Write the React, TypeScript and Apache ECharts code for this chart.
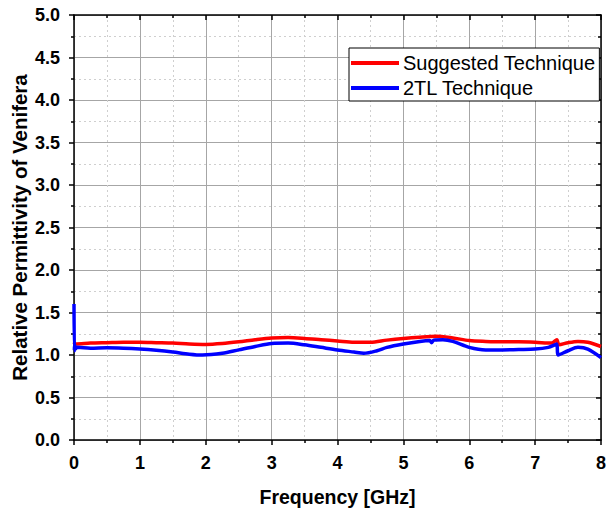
import React, { useEffect, useRef } from "react";
import * as echarts from "echarts";

const redX = [0, 0.02, 0.25, 0.5, 0.75, 1.0, 1.25, 1.5, 1.75, 2.0, 2.25, 2.5, 2.75, 3.0, 3.25, 3.5, 3.75, 4.0, 4.25, 4.5, 4.75, 5.0, 5.25, 5.5, 5.75, 6.0, 6.25, 6.5, 6.75, 7.0, 7.25, 7.33, 7.36, 7.5, 7.65, 7.8, 8.0];
const redY = [1.15, 1.13, 1.14, 1.145, 1.15, 1.15, 1.145, 1.14, 1.13, 1.125, 1.135, 1.155, 1.18, 1.2, 1.205, 1.195, 1.18, 1.165, 1.15, 1.15, 1.175, 1.195, 1.21, 1.22, 1.2, 1.17, 1.16, 1.155, 1.155, 1.15, 1.14, 1.18, 1.12, 1.145, 1.16, 1.15, 1.1];

const blueX = [0, 0.005, 0.01, 0.02, 0.05, 0.25, 0.5, 0.75, 1.0, 1.25, 1.5, 1.75, 1.95, 2.25, 2.5, 2.75, 3.0, 3.25, 3.5, 3.75, 4.0, 4.25, 4.4, 4.6, 4.75, 5.0, 5.25, 5.4, 5.43, 5.46, 5.6, 5.75, 6.0, 6.25, 6.5, 6.75, 7.0, 7.2, 7.3, 7.33, 7.35, 7.5, 7.65, 7.8, 8.0];
const blueY = [1.6, 1.05, 1.12, 1.07, 1.09, 1.08, 1.085, 1.08, 1.07, 1.055, 1.035, 1.01, 1.0, 1.02, 1.06, 1.1, 1.135, 1.14, 1.12, 1.09, 1.06, 1.035, 1.02, 1.05, 1.09, 1.13, 1.16, 1.17, 1.145, 1.175, 1.18, 1.16, 1.09, 1.06, 1.06, 1.065, 1.07, 1.09, 1.12, 1.13, 1.0, 1.05, 1.09, 1.07, 0.97];

const seriesNames = ["Suggested Technique", "2TL Technique"];
const xTitle = "Frequency [GHz]";
const yTitle = "Relative Permittivity of Venifera";

const FONT = "Liberation Sans, Arial, sans-serif";

export default function App() {
  const ref = useRef<HTMLDivElement>(null);
  useEffect(() => {
    const chart = echarts.init(ref.current!, null, { renderer: "svg" });
    const major = { show: true, lineStyle: { color: "#a6a6a6", width: 1 } };
    const minor = { show: true, lineStyle: { color: "#cfcfcf", width: 1, type: [2, 3] } };
    chart.setOption({
      animation: false,
      grid: { left: 74, right: 7, top: 15, bottom: 74, containLabel: false, outerBoundsMode: "none" },
      legend: {
        orient: "vertical",
        left: 349,
        top: 48,
        icon: "rect",
        itemWidth: 48,
        itemHeight: 4,
        itemGap: 3,
        padding: [4, 4, 2, 2],
        borderColor: "#000",
        borderWidth: 1,
        backgroundColor: "#fff",
        textStyle: { fontFamily: FONT, fontSize: 20, color: "#000", lineHeight: 22, padding: [0, 0, 0, -1] },
        data: seriesNames,
      },
      xAxis: [
        {
          type: "value",
          min: 0,
          max: 8,
          interval: 1,
          name: xTitle,
          nameLocation: "middle",
          nameGap: 47,
          nameMoveOverlap: false,
          nameTextStyle: { fontFamily: FONT, fontSize: 19.5, fontWeight: "bold", color: "#000", verticalAlign: "top" },
          axisLine: { show: true, onZero: false, lineStyle: { color: "#000", width: 1.5 } },
          axisTick: { show: true, inside: false, length: 5, lineStyle: { color: "#000", width: 1.5 } },
          minorTick: { show: true, splitNumber: 2, length: 3, lineStyle: { color: "#000", width: 1.5 } },
          axisLabel: { fontFamily: FONT, fontSize: 18, fontWeight: "bold", color: "#000", margin: 14 },
          splitLine: major,
          minorSplitLine: minor,
        },
        {
          type: "value",
          position: "top",
          min: 0,
          max: 8,
          interval: 1,
          axisLine: { show: true, onZero: false, lineStyle: { color: "#000", width: 1.5 } },
          axisTick: { show: true, inside: true, length: 5, lineStyle: { color: "#000", width: 1.5 } },
          minorTick: { show: true, splitNumber: 2, length: 3, lineStyle: { color: "#000", width: 1.5 } },
          axisLabel: { show: false },
          splitLine: { show: false },
        },
      ],
      yAxis: [
        {
          type: "value",
          min: 0,
          max: 5,
          interval: 0.5,
          name: yTitle,
          nameLocation: "middle",
          nameGap: 44,
          nameMoveOverlap: false,
          nameTextStyle: { fontFamily: FONT, fontSize: 20.5, fontWeight: "bold", color: "#000" },
          axisLine: { show: true, onZero: false, lineStyle: { color: "#000", width: 1.5 } },
          axisTick: { show: true, inside: false, length: 5, lineStyle: { color: "#000", width: 1.5 } },
          minorTick: { show: true, splitNumber: 2, length: 3, lineStyle: { color: "#000", width: 1.5 } },
          axisLabel: { fontFamily: FONT, fontSize: 18, fontWeight: "bold", color: "#000", margin: 14, formatter: (v: number) => v.toFixed(1) },
          splitLine: major,
          minorSplitLine: minor,
        },
        {
          type: "value",
          position: "right",
          min: 0,
          max: 5,
          interval: 0.5,
          axisLine: { show: true, onZero: false, lineStyle: { color: "#000", width: 1.5 } },
          axisTick: { show: true, inside: true, length: 5, lineStyle: { color: "#000", width: 1.5 } },
          minorTick: { show: true, splitNumber: 2, length: 3, lineStyle: { color: "#000", width: 1.5 } },
          axisLabel: { show: false },
          splitLine: { show: false },
        },
      ],
      series: [
        {
          name: seriesNames[0],
          type: "line",
          showSymbol: false,
          smooth: 0.3,
          color: "#ff0000",
          lineStyle: { width: 3.5, color: "#ff0000" },
          data: redX.map((x, i) => [x, redY[i]]),
          z: 2,
        },
        {
          name: seriesNames[1],
          type: "line",
          showSymbol: false,
          smooth: 0.3,
          color: "#0000ff",
          lineStyle: { width: 3.5, color: "#0000ff" },
          data: blueX.map((x, i) => [x, blueY[i]]),
          z: 3,
        },
      ],
    });
    return () => chart.dispose();
  }, []);
  return <div ref={ref} style={{ width: 608, height: 514, position: "absolute", left: 0, top: 0 }} />;
}
